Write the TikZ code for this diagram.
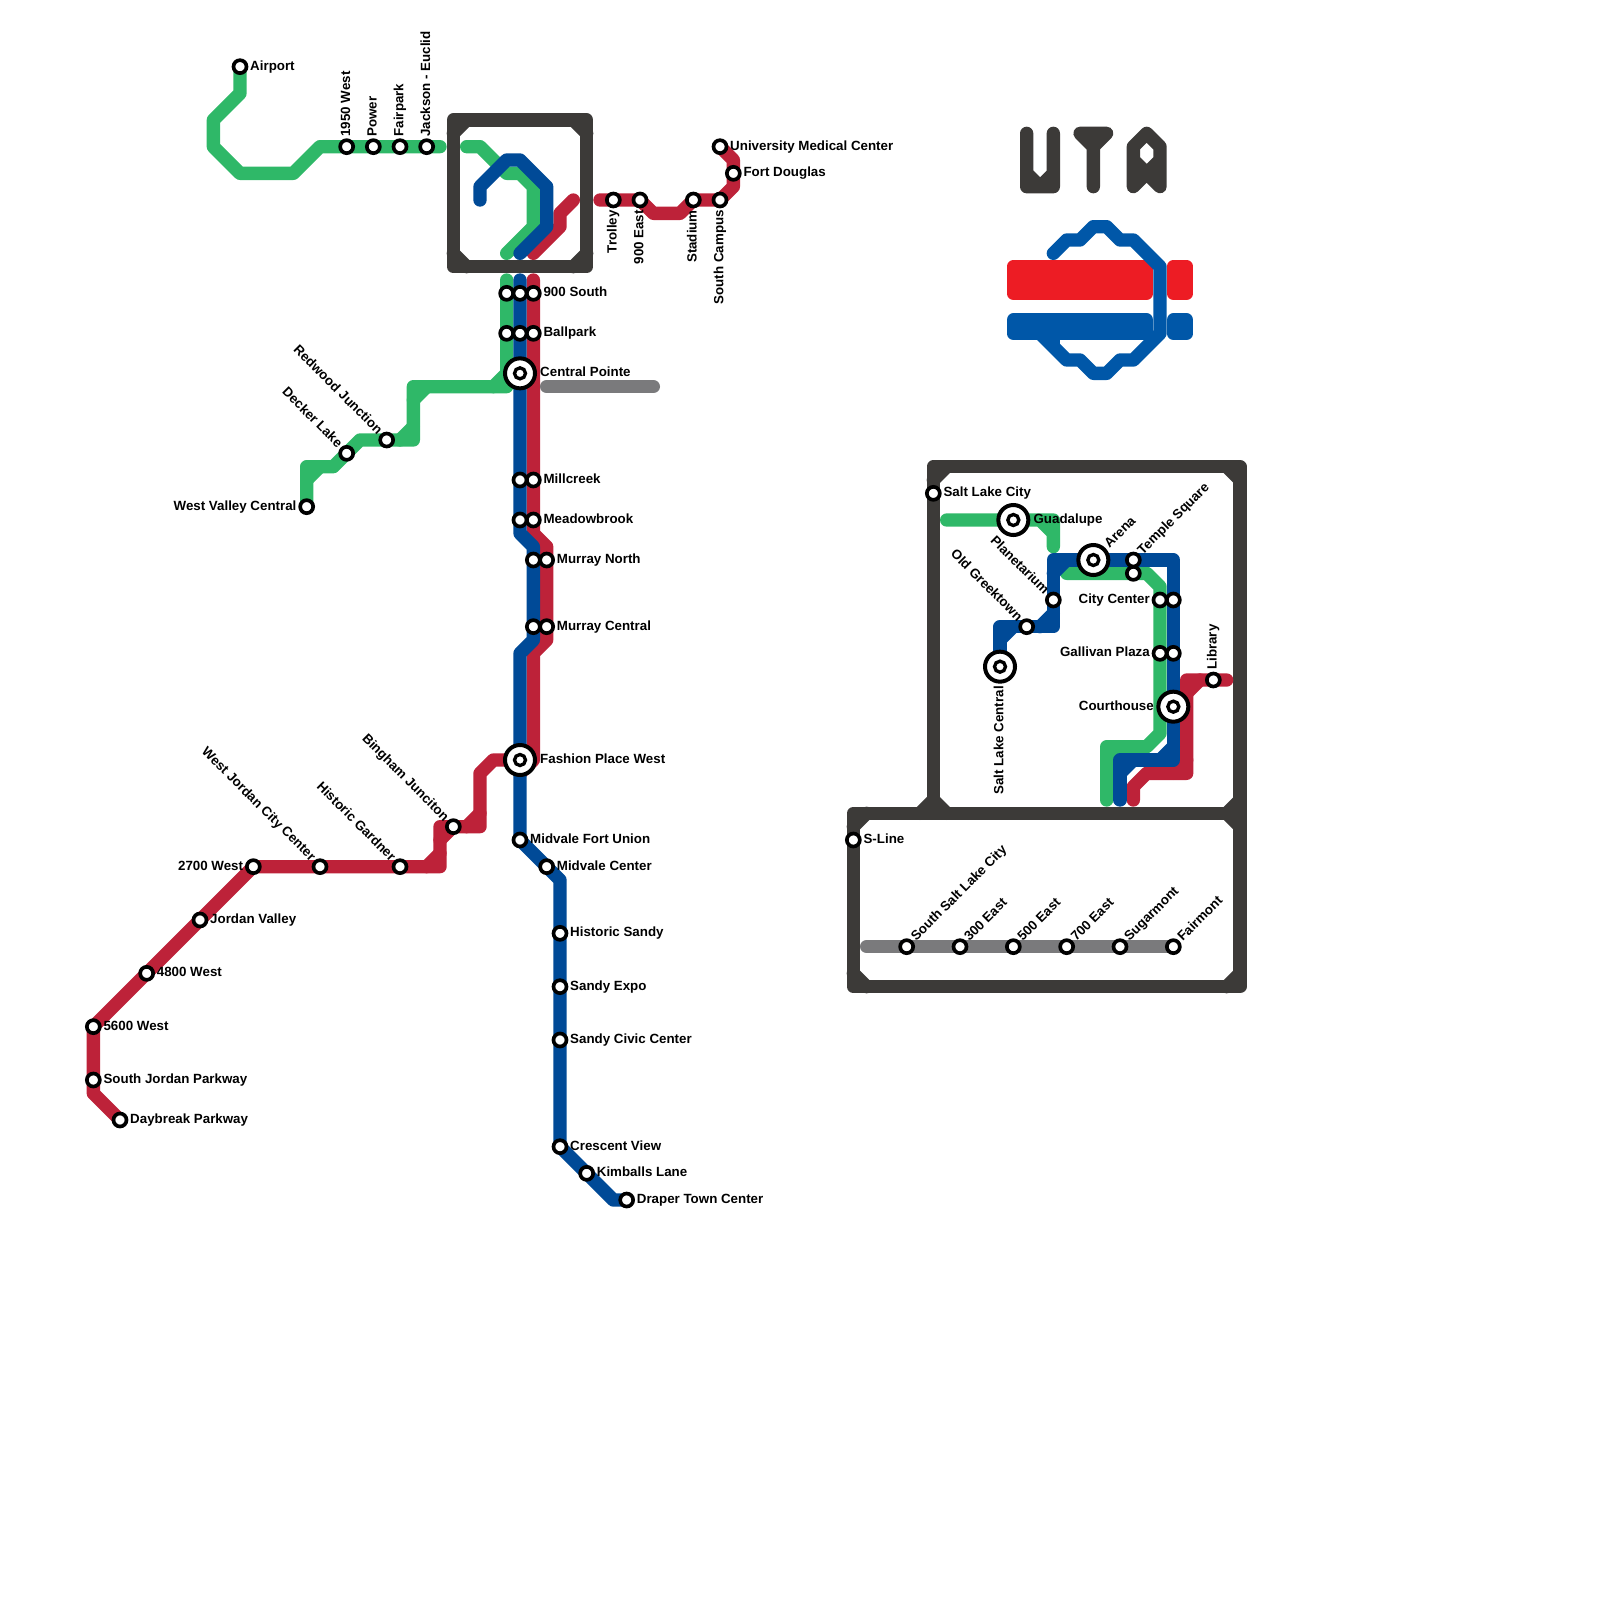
\documentclass[tikz,border=0pt]{standalone}
\usepackage{fontspec}
\setmainfont{Liberation Sans}
\usepackage{xcolor}
\definecolor{trxgreen}{HTML}{2FB868}
\definecolor{trxblue}{HTML}{004A97}
\definecolor{trxred}{HTML}{BD2239}
\definecolor{trxgray}{HTML}{7A7A7C}
\definecolor{trxdark}{HTML}{3C3A38}
\definecolor{logored}{HTML}{ED1C24}
\definecolor{logoblue}{HTML}{0057A8}

\begin{document}
\begin{tikzpicture}[
    x=0.4cm,y=-0.4cm,
    route/.style={line width=0.4cm,line cap=round,line join=round},
    frame/.style={route,trxdark},
    stn/.style={circle,draw=black,fill=white,line width=0.11cm,minimum size=0.39cm,inner sep=0pt,outer sep=0pt},
    hub/.style={circle,draw=black,fill=white,line width=0.12cm,minimum size=0.9cm,inner sep=0pt,outer sep=0pt},
    hubdot/.style={circle,draw=black,fill=white,line width=0.1cm,minimum size=0.33cm,inner sep=0pt,outer sep=0pt},
    lbl/.style={font=\bfseries\fontsize{11.38}{13}\selectfont,inner sep=0pt},
    rlbl/.style={lbl,anchor=base west,xshift=0.3cm,yshift=-0.1cm},
    llbl/.style={lbl,anchor=base east,xshift=-0.3cm,yshift=-0.1cm},
    tlbl/.style={lbl,rotate=90,anchor=base west,xshift=0.3cm,yshift=-0.1cm},
    blbl/.style={lbl,rotate=90,anchor=base east,xshift=-0.3cm,yshift=-0.1cm},
    nelbl/.style={lbl,rotate=45,anchor=base west,xshift=0.3cm,yshift=-0.1cm},
    nwlbl/.style={lbl,rotate=-45,anchor=base east,xshift=-0.3cm,yshift=-0.1cm}
  ]
    \useasboundingbox (0,0) rectangle (120,120);

    % frames
    \draw[frame] (34,9) rectangle (44,20);
    \draw[frame] (34,10) -- (35,9) (43,9) -- (44,10) (34,19) -- (35,20) (43,20) -- (44,19);
    \draw[frame] (70,35) rectangle (93,61);
    \draw[frame] (70,36) -- (71,35) (92,35) -- (93,36) (69,61) -- (70,60) -- (71,61) (92,61) -- (93,60);
    \draw[frame] (64,61) rectangle (93,74);
    \draw[frame] (64,62) -- (65,61) (92,61) -- (93,62) (64,73) -- (65,74) (92,74) -- (93,73);

    % green line
    \draw[route,trxgreen] (18,5) -- (18,7) -- (16,9) -- (16,11) -- (18,13) -- (22,13) -- (24,11) -- (33,11);
    \draw[route,trxgreen] (35,11) -- (36,11) -- (38,13) -- (39,13) -- (40,14) -- (40,17) -- (38,19);
    \draw[route,trxgreen] (38,21) -- (38,29) -- (31,29) -- (31,33) -- (27,33) -- (25,35) -- (23,35) -- (23,38);
    \draw[route,trxgreen] (38,28) -- (37,29) (31,30) -- (32,29) (30,33) -- (31,32) (23,36) -- (24,35);
    \draw[route,trxgreen] (71,39) -- (79,39) -- (79,41) (78,39) -- (79,40);
    \draw[route,trxgreen] (80,43) -- (86,43) -- (87,44) -- (87,55) -- (86,56) -- (83,56) -- (83,60) (83,57) -- (84,56);

    % red line
    \draw[route,trxred] (45,15) -- (48,15) -- (49,16) -- (51,16) -- (52,15) -- (54,15) -- (55,14) -- (55,12) -- (54,11);
    \draw[route,trxred] (40,19) -- (42,17) -- (42,16) -- (43,15);
    \draw[route,trxred] (40,21) -- (40,40) -- (41,41) -- (41,48) -- (40,49) -- (40,57) -- (39,58);
    \draw[route,trxred] (39,57) -- (37,57) -- (36,58) -- (36,62) -- (33,62) -- (33,65) -- (19,65) -- (7,77) -- (7,82) -- (9,84);
    \draw[route,trxred] (36,61) -- (35,62) (33,63) -- (34,62) (33,64) -- (32,65);
    \draw[route,trxred] (85,60) -- (85,59) -- (86,58) -- (89,58) -- (89,51) -- (92,51);
    \draw[route,trxred] (88,58) -- (89,57) (89,52) -- (90,51);

    % blue line
    \draw[route,trxblue] (36,15) -- (36,14) -- (38,12) -- (39,12) -- (41,14) -- (41,17) -- (39,19);
    \draw[route,trxblue] (39,21) -- (39,40) -- (40,41) -- (40,48) -- (39,49) -- (39,63) -- (42,66) -- (42,86) -- (46,90) -- (47,90);
    \draw[route,trxblue] (84,60) -- (84,57) -- (88,57) -- (88,42) -- (79,42) -- (79,47) -- (75,47) -- (75,50);
    \draw[route,trxblue] (84,58) -- (85,57) (87,57) -- (88,56) (79,43) -- (80,42) (78,47) -- (79,46) (75,48) -- (76,47);

    % gray line
    \draw[route,trxgray] (41,29) -- (49,29);
    \draw[route,trxgray] (65,71) -- (88,71);

    % logo
    \draw[route,trxdark] (77,10) -- (77,14) -- (79,14) -- (79,10) (77,13) -- (78,14) -- (79,13);
    \draw[route,trxdark] (81,10) -- (83,10) -- (82,11) -- cycle (82,10) -- (82,14);
    \draw[route,trxdark] (85,14) -- (85,11) -- (86,10) -- (87,11) -- (87,14) -- (86,13) -- cycle (85,12) -- (86,13) -- (87,12);
    \draw[route,logored,fill=logored] (76,20) rectangle (86,22);
    \draw[route,logored,fill=logored] (88,20) rectangle (89,22);
    \draw[route,logoblue,fill=logoblue] (76,24) rectangle (86,25);
    \draw[route,logoblue,fill=logoblue] (88,24) rectangle (89,25);
    \draw[route,logoblue] (79,19) -- (80,18) -- (81,18) -- (82,17) -- (83,17) -- (84,18) -- (85,18) -- (87,20) -- (87,25) -- (85,27) -- (84,27) -- (83,28) -- (82,28) -- (81,27) -- (80,27) -- (78,25);
    \draw[route,logoblue,line cap=butt] (79,25) -- (79,26);

    % airport branch
    \node[stn] (airport) at (18,5) {};       \node[rlbl] (airportl) at (airport) {Airport};
    \node[stn] (w1950) at (26,11) {};        \node[tlbl] (w1950l) at (w1950) {1950 West};
    \node[stn] (power) at (28,11) {};        \node[tlbl] (powerl) at (power) {Power};
    \node[stn] (fairpark) at (30,11) {};     \node[tlbl] (fairparkl) at (fairpark) {Fairpark};
    \node[stn] (jackson) at (32,11) {};      \node[tlbl] (jacksonl) at (jackson) {Jackson - Euclid};

    % university branch
    \node[stn] (trolley) at (46,15) {};      \node[blbl] (trolleyl) at (trolley) {Trolley};
    \node[stn] (e900) at (48,15) {};         \node[blbl] (e900l) at (e900) {900 East};
    \node[stn] (stadium) at (52,15) {};      \node[blbl] (stadiuml) at (stadium) {Stadium};
    \node[stn] (campus) at (54,15) {};       \node[blbl] (campusl) at (campus) {South Campus};
    \node[stn] (douglas) at (55,13) {};      \node[rlbl] (douglasl) at (douglas) {Fort Douglas};
    \node[stn] (medical) at (54,11) {};      \node[rlbl] (medicall) at (medical) {University Medical Center};

    % trunk
    \node[stn] (s900a) at (38,22) {};
    \node[stn] (s900b) at (39,22) {};
    \node[stn] (s900c) at (40,22) {};        \node[rlbl] (s900l) at (s900c) {900 South};
    \node[stn] (ballparka) at (38,25) {};
    \node[stn] (ballparkb) at (39,25) {};
    \node[stn] (ballparkc) at (40,25) {};    \node[rlbl] (ballparkl) at (ballparkc) {Ballpark};
    \node[hub] (central) at (39,28) {};
    \node[hubdot] (centrald) at (central) {};
    \node[rlbl,xshift=0.3cm] (centrall) at (central) {Central Pointe};
    \node[stn] (millcreeka) at (39,36) {};
    \node[stn] (millcreekb) at (40,36) {};   \node[rlbl] (millcreekl) at (millcreekb) {Millcreek};
    \node[stn] (meadowa) at (39,39) {};
    \node[stn] (meadowb) at (40,39) {};      \node[rlbl] (meadowl) at (meadowb) {Meadowbrook};
    \node[stn] (northa) at (40,42) {};
    \node[stn] (northb) at (41,42) {};       \node[rlbl] (northl) at (northb) {Murray North};
    \node[stn] (murraya) at (40,47) {};
    \node[stn] (murrayb) at (41,47) {};      \node[rlbl] (murrayl) at (murrayb) {Murray Central};
    \node[hub] (fashion) at (39,57) {};
    \node[hubdot] (fashiond) at (fashion) {};
    \node[rlbl,xshift=0.3cm] (fashionl) at (fashion) {Fashion Place West};

    % sandy branch
    \node[stn] (union) at (39,63) {};        \node[rlbl] (unionl) at (union) {Midvale Fort Union};
    \node[stn] (midvale) at (41,65) {};      \node[rlbl] (midvalel) at (midvale) {Midvale Center};
    \node[stn] (sandy) at (42,70) {};        \node[rlbl] (sandyl) at (sandy) {Historic Sandy};
    \node[stn] (expo) at (42,74) {};         \node[rlbl] (expol) at (expo) {Sandy Expo};
    \node[stn] (civic) at (42,78) {};        \node[rlbl] (civicl) at (civic) {Sandy Civic Center};
    \node[stn] (crescent) at (42,86) {};     \node[rlbl] (crescentl) at (crescent) {Crescent View};
    \node[stn] (kimballs) at (44,88) {};     \node[rlbl] (kimballsl) at (kimballs) {Kimballs Lane};
    \node[stn] (draper) at (47,90) {};       \node[rlbl] (draperl) at (draper) {Draper Town Center};

    % west valley branch
    \node[stn] (redwood) at (29,33) {};      \node[nwlbl] (redwoodl) at (redwood) {Redwood Junction};
    \node[stn] (decker) at (26,34) {};       \node[nwlbl] (deckerl) at (decker) {Decker Lake};
    \node[stn] (valley) at (23,38) {};       \node[llbl] (valleyl) at (valley) {West Valley Central};

    % jordan branch
    \node[stn] (bingham) at (34,62) {};      \node[nwlbl] (binghaml) at (bingham) {Bingham Junciton};
    \node[stn] (gardner) at (30,65) {};      \node[nwlbl] (gardnerl) at (gardner) {Historic Gardner};
    \node[stn] (wjordan) at (24,65) {};      \node[nwlbl] (wjordanl) at (wjordan) {West Jordan City Center};
    \node[stn] (w2700) at (19,65) {};        \node[llbl] (w2700l) at (w2700) {2700 West};
    \node[stn] (jvalley) at (15,69) {};      \node[rlbl] (jvalleyl) at (jvalley) {Jordan Valley};
    \node[stn] (w4800) at (11,73) {};        \node[rlbl] (w4800l) at (w4800) {4800 West};
    \node[stn] (w5600) at (7,77) {};         \node[rlbl] (w5600l) at (w5600) {5600 West};
    \node[stn] (sjordan) at (7,81) {};       \node[rlbl] (sjordanl) at (sjordan) {South Jordan Parkway};
    \node[stn] (daybreak) at (9,84) {};      \node[rlbl] (daybreakl) at (daybreak) {Daybreak Parkway};

    % downtown
    \node[stn] (slc) at (70,37) {};          \node[rlbl] (slcl) at (slc) {Salt Lake City};
    \node[hub] (guadalupe) at (76,39) {};
    \node[hubdot] (guadalupd) at (guadalupe) {};
    \node[rlbl,xshift=0.3cm] (guadalupl) at (guadalupe) {Guadalupe};
    \node[hub] (arena) at (82,42) {};
    \node[hubdot] (arenad) at (arena) {};
    \node[nelbl,xshift=0.28cm] (arenal) at (arena) {Arena};
    \node[stn] (templea) at (85,42) {};      \node[nelbl] (templel) at (templea) {Temple Square};
    \node[stn] (templeb) at (85,43) {};
    \node[stn] (planet) at (79,45) {};       \node[nwlbl] (planetl) at (planet) {Planetarium};
    \node[stn] (greek) at (77,47) {};        \node[nwlbl] (greekl) at (greek) {Old Greektown};
    \node[hub] (slcentral) at (75,50) {};
    \node[hubdot] (slcentrald) at (slcentral) {};
    \node[blbl,xshift=-0.28cm] (slcentrall) at (slcentral) {Salt Lake Central};
    \node[stn] (citya) at (87,45) {};        \node[llbl] (cityl) at (citya) {City Center};
    \node[stn] (cityb) at (88,45) {};
    \node[stn] (gallivana) at (87,49) {};    \node[llbl] (gallivanl) at (gallivana) {Gallivan Plaza};
    \node[stn] (gallivanb) at (88,49) {};
    \node[hub] (court) at (88,53) {};
    \node[hubdot] (courtd) at (court) {};
    \node[llbl,xshift=-0.28cm] (courtl) at (court) {Courthouse};
    \node[stn] (library) at (91,51) {};      \node[tlbl] (libraryl) at (library) {Library};

    % s-line
    \node[stn] (sline) at (64,63) {};        \node[rlbl] (slinel) at (sline) {S-Line};
    \node[stn] (sslc) at (68,71) {};         \node[nelbl] (sslcl) at (sslc) {South Salt Lake City};
    \node[stn] (e300) at (72,71) {};         \node[nelbl] (e300l) at (e300) {300 East};
    \node[stn] (e500) at (76,71) {};         \node[nelbl] (e500l) at (e500) {500 East};
    \node[stn] (e700) at (80,71) {};         \node[nelbl] (e700l) at (e700) {700 East};
    \node[stn] (sugar) at (84,71) {};        \node[nelbl] (sugarl) at (sugar) {Sugarmont};
    \node[stn] (fairmont) at (88,71) {};     \node[nelbl] (fairmontl) at (fairmont) {Fairmont};
  \end{tikzpicture}
\end{document}
